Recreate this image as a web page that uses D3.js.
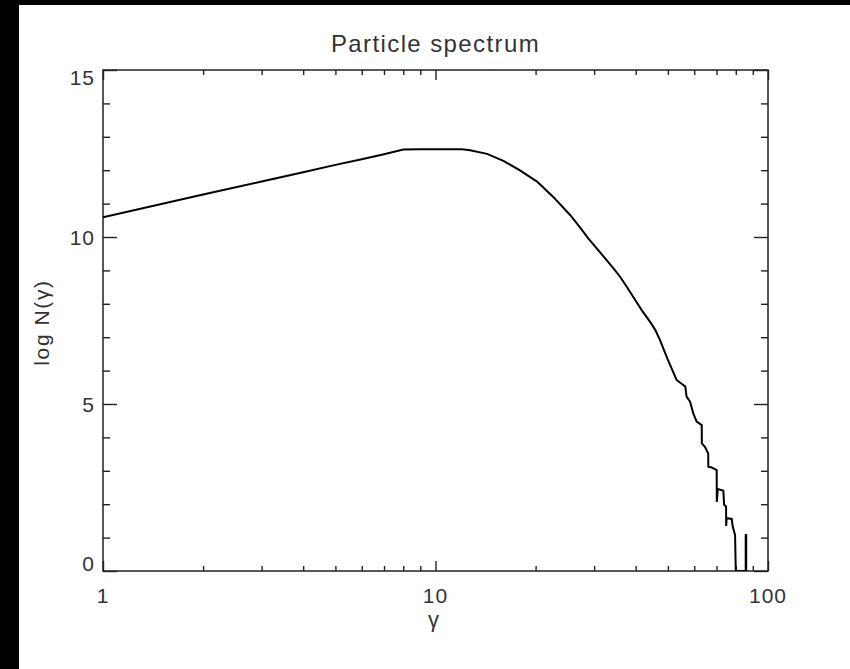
<!DOCTYPE html>
<html>
<head>
<meta charset="utf-8">
<script src="https://cdn.jsdelivr.net/npm/d3@7"></script>
<style>
  html, body { margin: 0; padding: 0; background: #fff; }
  svg { display: block; }
  text { font-family: "Liberation Sans", Arial, sans-serif; fill: #333; }
</style>
</head>
<body>
<svg id="chart" width="850" height="669"></svg>
<script>
// Lorentz factor of each sample and the log of the particle count there
const gamma = [1, 2, 3, 4, 5, 6, 7, 8, 9, 10, 11, 12, 12.7, 14.3, 16.0, 17.9, 20.2, 22.6, 25.4, 27.2,
  28.8, 32.7, 34.3, 35.9, 37.6, 39.3, 41.7, 44.2, 45.8, 47.3, 50.0, 53.1, 55.6, 56.4, 56.9, 58.3,
  59.6, 61.0, 63.2, 63.25, 64.6, 66.1, 66.15, 67.7, 70.1, 70.15, 70.6, 70.9, 73.4, 73.8, 74.8,
  74.85, 75.1, 77.8, 78.3, 79.6, 80.0, 85.7, 85.7, 86.0, 86.0];
const logN = [10.59, 11.27, 11.66, 11.94, 12.16, 12.33, 12.48, 12.62, 12.63, 12.63, 12.63, 12.63,
  12.60, 12.49, 12.28, 12.00, 11.66, 11.20, 10.66, 10.29, 9.96, 9.31, 9.06, 8.81, 8.51, 8.21, 7.81,
  7.46, 7.22, 6.92, 6.32, 5.72, 5.57, 5.52, 5.22, 5.07, 4.72, 4.47, 4.37, 3.82, 3.72, 3.52, 3.12,
  3.10, 3.02, 2.07, 2.42, 2.45, 2.40, 1.98, 1.93, 1.35, 1.58, 1.56, 1.33, 1.08, 0, 0, 1.08, 1.08, 0];

const xMajor = [1, 10, 100];
const xMinor = [2, 3, 4, 5, 6, 7, 8, 9, 20, 30, 40, 50, 60, 70, 80, 90];
const yMajor = [0, 5, 10, 15];
const yMinor = [1, 2, 3, 4, 6, 7, 8, 9, 11, 12, 13, 14];

const titleText = "Particle spectrum";
const xTitle = "γ";
const yTitle = "log N(γ)";

const svg = d3.select("#chart");
const W = 850, H = 669;
const m = { left: 103, right: 768, top: 70, bottom: 571 };

// dark bands along the left and top edges
svg.append("rect").attr("x", 0).attr("y", 0).attr("width", W).attr("height", H).attr("fill", "#fff");
svg.append("rect").attr("x", 0).attr("y", 0).attr("width", 19).attr("height", H).attr("fill", "#000");
svg.append("rect").attr("x", 0).attr("y", 0).attr("width", W).attr("height", 5).attr("fill", "#000");

const x = d3.scaleLog().domain([1, 100]).range([m.left, m.right]);
const y = d3.scaleLinear().domain([0, 15]).range([m.bottom, m.top]);

const pw = m.right - m.left, ph = m.bottom - m.top;
const xLen = 10, yLen = 14;

function styleAxis(g) {
  g.select(".domain").remove();
  g.selectAll(".tick line").attr("stroke", "#222").attr("stroke-width", 1.4);
  g.selectAll(".tick text").remove();
}

// ticks on all four sides, pointing inward
[[d3.axisBottom, m.bottom, xMajor, xLen], [d3.axisBottom, m.bottom, xMinor, xLen / 2],
 [d3.axisTop, m.top, xMajor, xLen], [d3.axisTop, m.top, xMinor, xLen / 2]].forEach(([ax, pos, vals, len]) => {
  svg.append("g").attr("transform", `translate(0,${pos})`)
    .call(ax(x).tickValues(vals).tickSize(-len).tickFormat(""))
    .call(styleAxis);
});
[[d3.axisLeft, m.left, yMajor, yLen], [d3.axisLeft, m.left, yMinor, yLen / 2],
 [d3.axisRight, m.right, yMajor, yLen], [d3.axisRight, m.right, yMinor, yLen / 2]].forEach(([ax, pos, vals, len]) => {
  svg.append("g").attr("transform", `translate(${pos},0)`)
    .call(ax(y).tickValues(vals).tickSize(-len).tickFormat(""))
    .call(styleAxis);
});

// plot frame
svg.append("rect")
  .attr("x", m.left).attr("y", m.top).attr("width", pw).attr("height", ph)
  .attr("fill", "none").attr("stroke", "#222").attr("stroke-width", 1.5);

// tick labels
svg.append("g").selectAll("text").data(xMajor).join("text")
  .attr("x", d => x(d)).attr("y", 603)
  .attr("text-anchor", "middle")
  .attr("font-size", 21).attr("letter-spacing", 1)
  .text(d => d);

svg.append("g").selectAll("text").data(yMajor).join("text")
  .attr("x", 95).attr("y", d => y(d))
  .attr("text-anchor", "end")
  .attr("font-size", 21).attr("letter-spacing", 1)
  .attr("dy", d => d === 15 ? "0.72em" : d === 0 ? "0" : "0.36em")
  .text(d => d);

// titles
svg.append("text")
  .attr("x", (m.left + m.right) / 2).attr("y", 52)
  .attr("text-anchor", "middle").attr("font-size", 24).attr("letter-spacing", 1.4)
  .text(titleText);

svg.append("text")
  .attr("x", (m.left + m.right) / 2 - 2).attr("y", 627)
  .attr("text-anchor", "middle").attr("font-size", 22)
  .text(xTitle);

svg.append("text")
  .attr("transform", `translate(49,${(m.top + m.bottom) / 2 + 2}) rotate(-90)`)
  .attr("text-anchor", "middle").attr("font-size", 21).attr("letter-spacing", 1.6)
  .text(yTitle);

// spectrum curve
const pts = gamma.map((g, i) => [g, logN[i]]);
svg.append("defs").append("clipPath").attr("id", "plotClip")
  .append("rect").attr("x", m.left).attr("y", m.top).attr("width", pw).attr("height", ph);

svg.append("path")
  .datum(pts)
  .attr("clip-path", "url(#plotClip)")
  .attr("fill", "none")
  .attr("stroke", "#000")
  .attr("stroke-width", 2)
  .attr("stroke-linejoin", "miter")
  .attr("d", d3.line().x(d => x(d[0])).y(d => y(d[1])));
</script>
</body>
</html>
